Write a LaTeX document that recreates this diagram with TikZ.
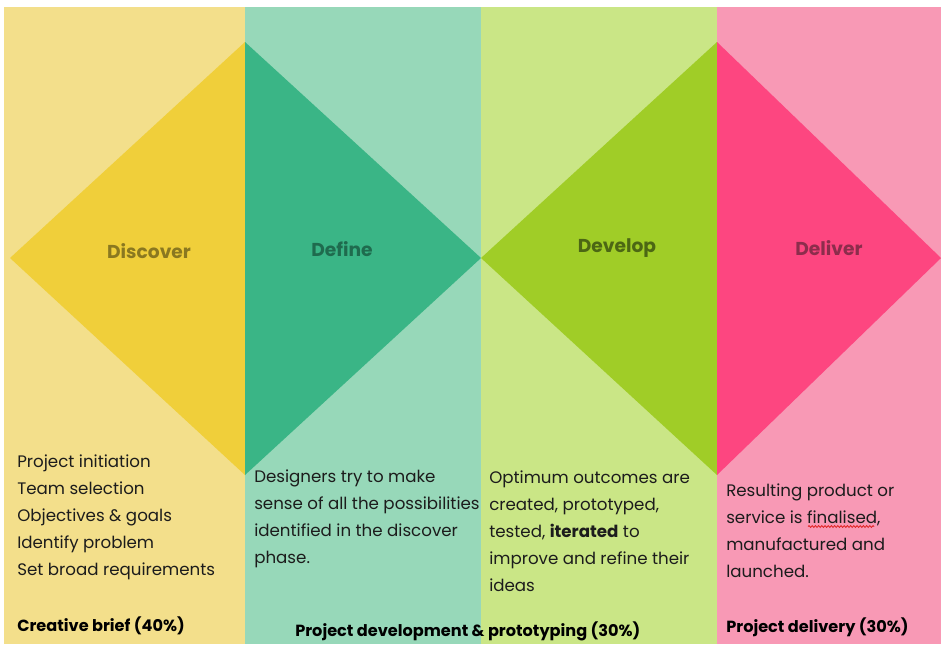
\documentclass[tikz,border=0pt]{standalone}
\usepackage{fontspec}
\setmainfont{Poppins}
\usepackage{xcolor}
\usetikzlibrary{decorations.pathmorphing}

% column and diamond colours
\definecolor{discoverBg}{HTML}{F3DF8B}
\definecolor{discoverTri}{HTML}{F0CF3A}
\definecolor{defineBg}{HTML}{97D8B9}
\definecolor{defineTri}{HTML}{3AB586}
\definecolor{developBg}{HTML}{CAE686}
\definecolor{developTri}{HTML}{A0CD27}
\definecolor{deliverBg}{HTML}{F899B5}
\definecolor{deliverTri}{HTML}{FD4680}
\definecolor{discoverInk}{HTML}{8A7820}
\definecolor{defineInk}{HTML}{1F6B4E}
\definecolor{developInk}{HTML}{4C6714}
\definecolor{deliverInk}{HTML}{8C2D4C}
\definecolor{bodyInk}{HTML}{1C1C1C}
\definecolor{spellRed}{HTML}{E02020}

\begin{document}
\begin{tikzpicture}[
    x=0.75pt, y=-0.75pt,
    phase/.style={anchor=center, inner sep=0pt, font=\fontsize{14}{16}\selectfont\bfseries},
    body/.style={anchor=base west, align=left, inner sep=0pt, text=bodyInk, font=\fontsize{12.5}{20.25}\selectfont},
    share/.style={anchor=base west, inner sep=0pt, text=black, font=\fontsize{12.1}{15}\selectfont\bfseries},
    squiggle/.style={spellRed, line width=0.6pt, decorate, decoration={snake, amplitude=0.7pt, segment length=2.4pt}}
]
    \useasboundingbox (0,0) rectangle (941,644);
    \fill[white] (0,0) rectangle (941,644);

    % columns
    \fill[discoverBg] (4,7) rectangle (245,644);
    \fill[defineBg] (245,7) rectangle (481,644);
    \fill[developBg] (481,7) rectangle (717,644);
    \fill[deliverBg] (717,7) rectangle (941,644);

    % the two diamonds
    \fill[discoverTri] (10,258) -- (245,42) -- (245,475) -- cycle;
    \fill[defineTri] (245,42) -- (481,258) -- (245,475) -- cycle;
    \fill[developTri] (481,258) -- (717,42) -- (717,475) -- cycle;
    \fill[deliverTri] (717,42) -- (941,258) -- (717,475) -- cycle;

    % phase names
    \node[phase, text=discoverInk] (discover) at (149,251) {Discover};
    \node[phase, text=defineInk] (define) at (342,249) {Define};
    \node[phase, text=developInk] (develop) at (617,248) {Develop};
    \node[phase, text=deliverInk] (deliver) at (829,248) {Deliver};

    % what happens in each phase (placed by the baseline of the last line)
    \node[body] (discoverText) at (17,575) {Project initiation\\Team selection\\Objectives \& goals\\Identify problem\\Set broad requirements};
    \node[body] (defineText) at (254,563) {Designers try to make\\sense of all the possibilities\\identified in the discover\\phase.};
    \node[body] (developText) at (489,591) {Optimum outcomes are\\created, prototyped,\\tested, \textbf{iterated} to\\improve and refine their\\ideas};
    \node[body] (deliverText) at (726,577) {Resulting product or\\service is finalised,\\manufactured and\\launched.};

    % spell-check wave under "finalised"
    \draw[squiggle] (808,526.5) -- (874,526.5);

    % share of the project
    \node[share] (briefShare) at (17,631) {Creative brief (40\%)};
    \node[share] (devShare) at (295,636) {Project development \& prototyping (30\%)};
    \node[share] (deliveryShare) at (726,632) {Project delivery (30\%)};
\end{tikzpicture}
\end{document}
